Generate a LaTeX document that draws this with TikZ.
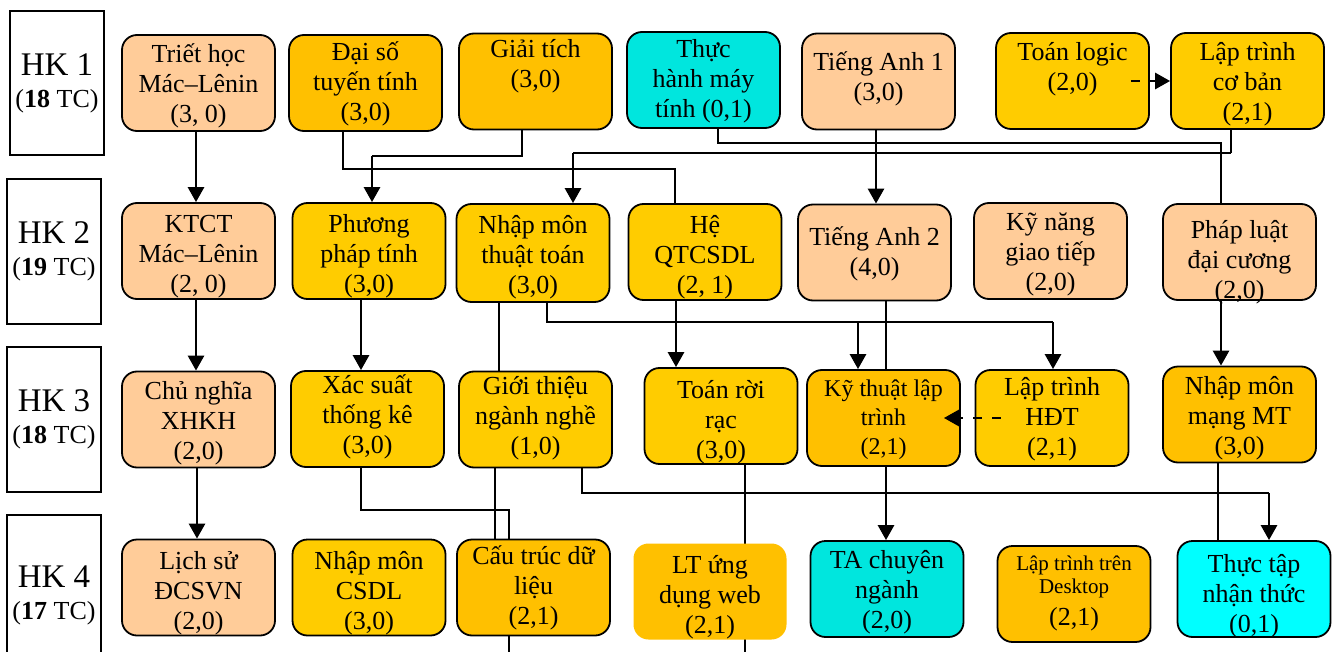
\documentclass[tikz,border=0pt]{standalone}
\usepackage{fontspec}
\setmainfont{Liberation Serif}
\usetikzlibrary{arrows.meta}
\pgfdeclarelayer{background}
\pgfsetlayers{background,main}
\definecolor{peach}{HTML}{FFCC99}
\definecolor{amber}{HTML}{FFC000}
\definecolor{gold}{HTML}{FFCC00}
\definecolor{cyanA}{HTML}{00E6DE}
\definecolor{cyanB}{HTML}{00FFFF}
% course text block: first baseline about 10.5pt above the box centre by default
\newcommand{\ct}[2][-4.75pt]{\raisebox{#1}[0pt][0pt]{\begin{tabular}{@{}c@{}}#2\end{tabular}}}
\begin{document}
\begin{tikzpicture}[x=0.5pt,y=-0.5pt,
  course/.style={draw=black, line width=0.9pt, rounded corners=7.5pt,
    inner sep=0pt, minimum width=76.5pt, minimum height=48pt,
    font=\fontsize{13}{15}\selectfont},
  hk/.style={draw=black, line width=0.9pt, fill=white, align=center, inner sep=0pt,
    minimum width=47pt, minimum height=72pt, font=\fontsize{13}{16}\selectfont},
  arr/.style={line width=1.4pt, -{Triangle[width=8pt,length=7.5pt]}},
  med/.style={line width=1pt},
  thin/.style={line width=0.6pt},
  dasharr/.style={line width=1.4pt, dash pattern=on 4.5pt off 5pt, -{Triangle[width=8pt,length=7.5pt]}}
]
\useasboundingbox (0,0) rectangle (1332,652);

% semester labels
\node[hk] (hk1) at (57,83) {{\fontsize{16.5}{18}\selectfont HK 1}\\(\textbf{18} TC)};
\node[hk, minimum height=72.5pt] (hk2) at (54,251.5) {{\fontsize{16.5}{18}\selectfont HK 2}\\(\textbf{19} TC)};
\node[hk, minimum height=72.5pt] (hk3) at (54,419.5) {{\fontsize{16.5}{18}\selectfont HK 3}\\(\textbf{18} TC)};
\node[hk, minimum height=80pt] (hk4) at (54,595) {{\fontsize{16.5}{18}\selectfont HK 4}\\(\textbf{17} TC)};

% row 1
\node[course, fill=peach] (triet) at (198.5,83) {\ct{Triết học\\Mác–Lênin\\(3, 0)}};
\node[course, fill=amber] (daiso) at (365.5,83) {\ct[-3.75pt]{Đại số\\tuyến tính\\(3,0)}};
\node[course, fill=amber] (giaitich) at (535.5,81.5) {\ct[-3pt]{Giải tích\\(3,0)\\~}};
\node[course, fill=cyanA] (thmt) at (703.5,80) {\ct[-3.75pt]{Thực\\hành máy\\tính (0,1)}};
\node[course, fill=peach] (ta1) at (878.5,81.5) {\ct[-2pt]{Tiếng Anh 1\\(3,0)}};
\node[course, fill=gold] (logic) at (1072.5,81) {\ct{Toán logic\\(2,0)\\~}};
\node[course, fill=gold] (lapcb) at (1247.5,81) {\ct{Lập trình\\cơ bản\\(2,1)}};

% row 2
\node[course, fill=peach] (ktct) at (198.5,251) {\ct[-5.75pt]{KTCT\\Mác–Lênin\\(2, 0)}};
\node[course, fill=gold] (ppt) at (369,251) {\ct[-5.75pt]{Phương\\pháp tính\\(3,0)}};
\node[course, fill=gold, minimum height=49pt] (nmtt) at (533,253) {\ct[-5.25pt]{Nhập môn\\thuật toán\\(3,0)}};
\node[course, fill=gold] (qtcsdl) at (705,252) {\ct[-5.75pt]{Hệ\\QTCSDL\\(2, 1)}};
\node[course, fill=peach] (ta2) at (874.5,252.5) {\ct[-4pt]{Tiếng Anh 2\\(4,0)}};
\node[course, fill=peach] (kngt) at (1050.5,251) {\ct{Kỹ năng\\giao tiếp\\(2,0)}};
\node[course, fill=peach] (phapluat) at (1239.5,252) {\ct[-8.25pt]{Pháp luật\\đại cương\\(2,0)}};

% row 3
\node[course, fill=peach] (cnxh) at (198.5,419.5) {\ct{Chủ nghĩa\\XHKH\\(2,0)}};
\node[course, fill=gold] (xstk) at (367.5,419) {\ct[-2.25pt]{Xác suất\\thống kê\\(3,0)}};
\node[course, fill=gold] (gtnn) at (535.5,419.5) {\ct[-2.25pt]{Giới thiệu\\ngành nghề\\(1,0)}};
\node[course, fill=gold] (trr) at (721,416) {\ct[-6pt]{Toán rời\\rạc\\(3,0)}};
\node[course, fill=amber, font=\fontsize{12}{14.5}\selectfont] (ktlt) at (883.5,418) {\ct[-4pt]{Kỹ thuật lập\\trình\\(2,1)}};
\node[course, fill=gold] (hdt) at (1052,418) {\ct[-3.5pt]{Lập trình\\HĐT\\(2,1)}};
\node[course, fill=amber] (mang) at (1239.5,414.5) {\ct{Nhập môn\\mạng MT\\(3,0)}};

% row 4
\node[course, fill=peach] (lichsu) at (198.5,587.5) {\ct[-5.75pt]{Lịch sử\\ĐCSVN\\(2,0)}};
\node[course, fill=gold] (csdl) at (369,587.5) {\ct[-5.75pt]{Nhập môn\\CSDL\\(3,0)}};
\node[course, fill=amber] (ctdl) at (533.5,587.5) {\ct[-3.25pt]{Cấu trúc dữ\\liệu\\(2,1)}};
\node[course, fill=amber, draw=none] (web) at (710,591.5) {\ct[-5.75pt]{LT ứng\\dụng web\\(2,1)}};
\node[course, fill=cyanA] (tacn) at (887,589) {\ct[-4.5pt]{TA chuyên\\ngành\\(2,0)}};
\node[course, fill=amber] (desktop) at (1074,594) {\ct[-2pt]{\fontsize{10.5}{12}\selectfont Lập trình trên\\[-3.5pt]\fontsize{10.5}{12}\selectfont Desktop\\[1pt](2,1)}};
\node[course, fill=cyanB] (thuctap) at (1254,589) {\ct[-6.75pt]{Thực tập\\nhận thức\\(0,1)}};

\coordinate (offA) at (509,672);
\coordinate (offB) at (745,672);

\begin{pgfonlayer}{background}
\fill[white] (0,0) rectangle (1332,652);
% HK1 -> HK2
\draw[arr] (196,0 |- triet.south) -- (196,0 |- ktct.north);
\draw[med] (343,0 |- daiso.south) |- (675,169) -- (675,0 |- qtcsdl.north);
\draw[med] (522,0 |- giaitich.south) |- (372,156);
\draw[arr] (372,156) -- (372,0 |- ppt.north);
\draw[thin] (1231,0 |- lapcb.south) -- (1231,153);
\draw[med] (1231,153) -- (573,153);
\draw[arr] (573,153) -- (573,0 |- nmtt.north);
\draw[med] (718,0 |- thmt.south) |- (1221,143) -- (1221,0 |- phapluat.north);
\draw[arr] (876,0 |- ta1.south) -- (876,0 |- ta2.north);
% HK2 -> HK3
\draw[arr] (196,0 |- ktct.south) -- (196,0 |- cnxh.north);
\draw[arr] (361,0 |- ppt.south) -- (361,0 |- xstk.north);
\draw[thin] (499,0 |- nmtt.south) -- (499,0 |- gtnn.north);
\draw[med] (547,0 |- nmtt.south) |- (1053,322);
\draw[arr] (1053,322) -- (1053,0 |- hdt.north);
\draw[arr] (858,322) -- (858,0 |- ktlt.north);
\draw[arr] (676,0 |- qtcsdl.south) -- (676,0 |- trr.north);
\draw[arr] (886,0 |- ta2.south) -- (886,0 |- tacn.north);
\draw[arr] (1221,0 |- phapluat.south) -- (1221,0 |- mang.north);
% HK3 -> HK4
\draw[arr] (197,0 |- cnxh.south) -- (197,0 |- lichsu.north);
\draw[med] (361,0 |- xstk.south) |- (509,510) -- (509,0 |- ctdl.north);
\draw[med] (509,0 |- ctdl.south) -- (offA);
\draw[thin] (495,0 |- gtnn.south) -- (495,0 |- ctdl.north);
\draw[med] (582,0 |- gtnn.south) |- (1269,493);
\draw[arr] (1269,493) -- (1269,0 |- thuctap.north);
\draw[thin] (745,0 |- trr.south) -- (offB);
\draw[thin] (1218,0 |- mang.south) -- (1218,0 |- thuctap.north);
\end{pgfonlayer}

% dashed prerequisites
\draw[dasharr] ([xshift=-9.5pt]logic.east) -- (lapcb.west);
\draw[dasharr] ([xshift=13pt]hdt.west) -- ([xshift=-8.5pt]ktlt.east);
\end{tikzpicture}
\end{document}
